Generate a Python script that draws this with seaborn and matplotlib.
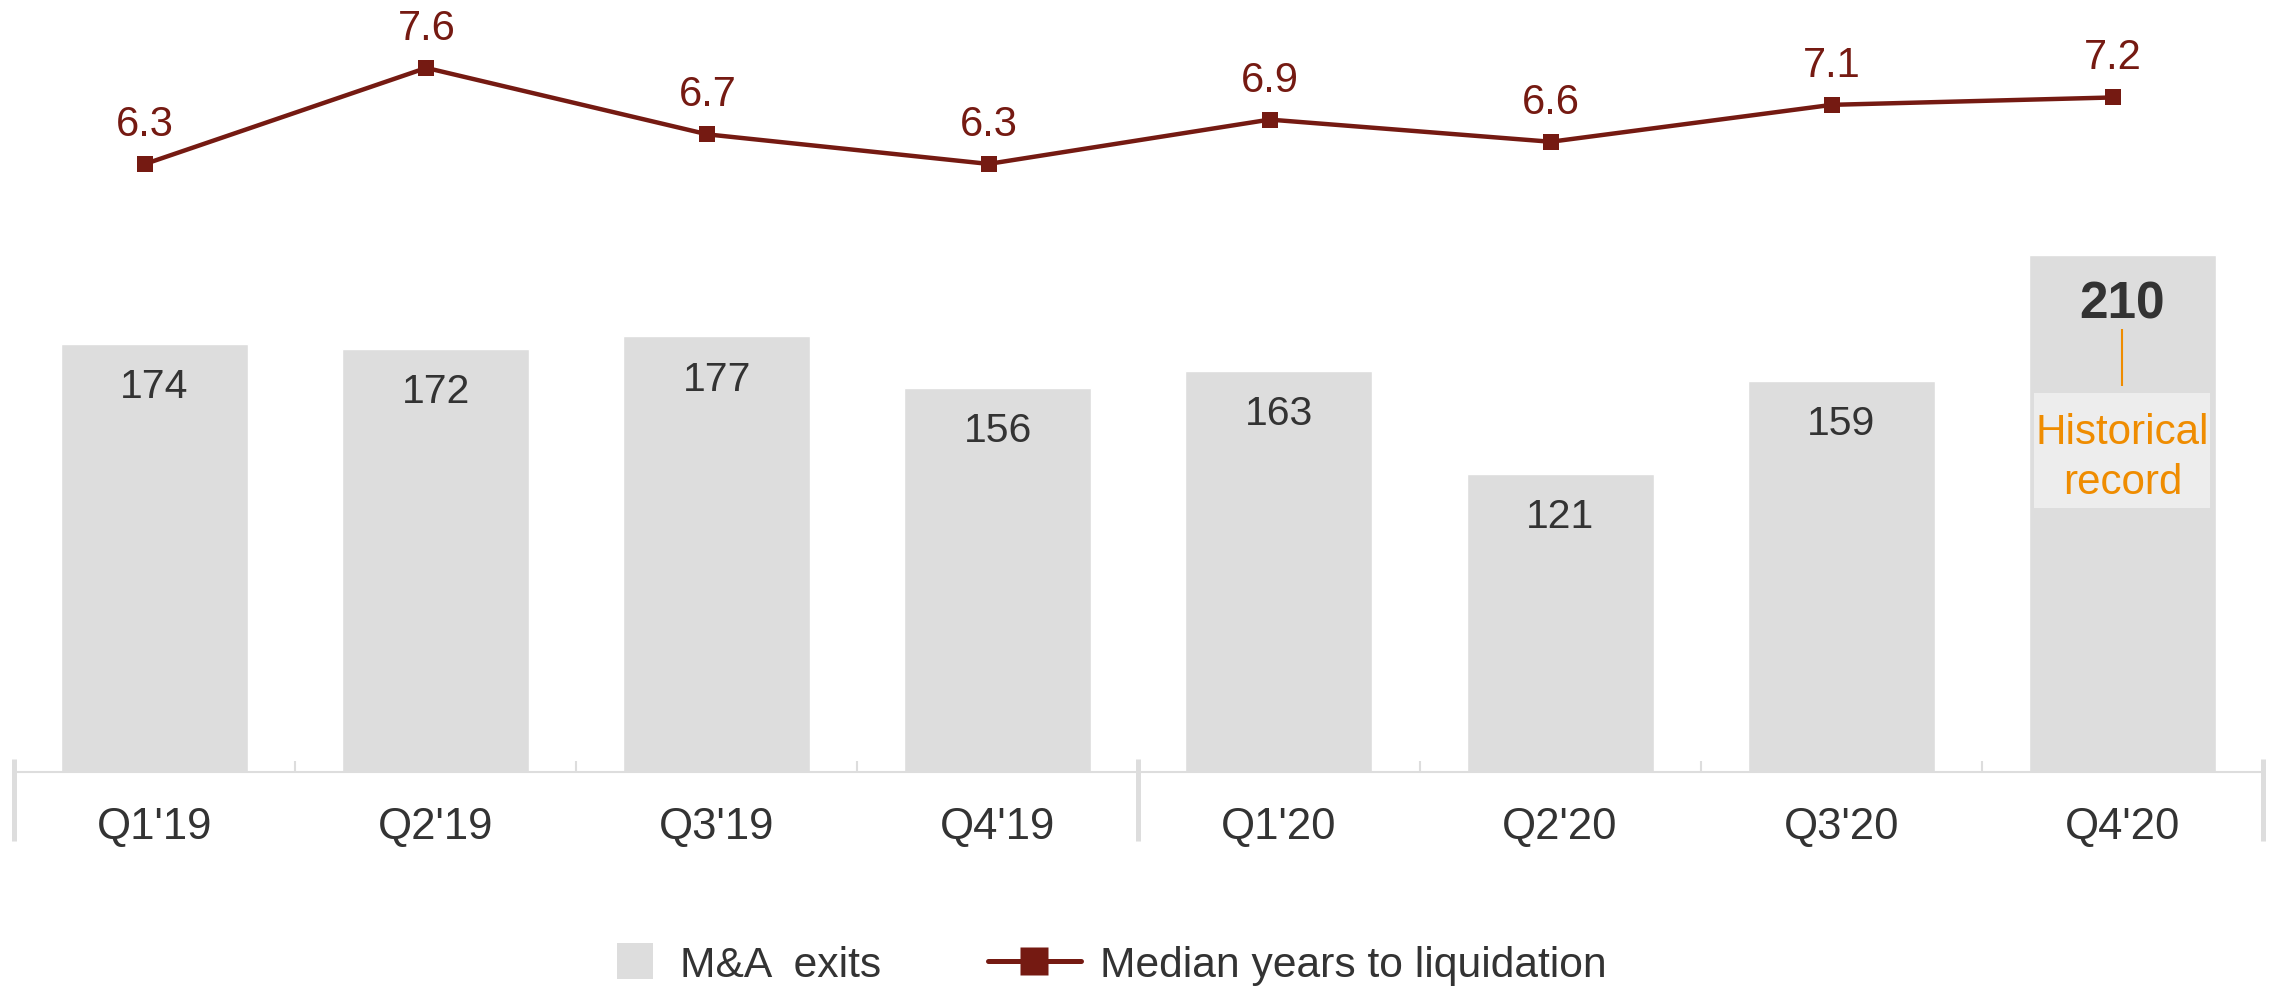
import numpy as np
import pandas as pd
import matplotlib.pyplot as plt
import seaborn as sns
from matplotlib.lines import Line2D
from matplotlib.patches import Patch, Rectangle
from matplotlib.legend_handler import HandlerPatch

# chart data
quarters = ["Q1'19", "Q2'19", "Q3'19", "Q4'19", "Q1'20", "Q2'20", "Q3'20", "Q4'20"]
ma_exits = [174, 172, 177, 156, 163, 121, 159, 210]
median_years = [6.3, 7.6, 6.7, 6.3, 6.9, 6.6, 7.1, 7.2]
record_label = "Historical\nrecord"

BAR_COLOR = '#dddddd'
BOX_COLOR = '#ededed'
LINE_COLOR = '#751a12'
TEXT_COLOR = '#333333'
ORANGE = '#ef8c00'

sns.set_theme(style='white')
plt.rcParams['font.family'] = ['Liberation Sans', 'DejaVu Sans']

df = pd.DataFrame({'quarter': quarters, 'exits': ma_exits, 'years': median_years})

fig = plt.figure(figsize=(22.8, 9.87), dpi=100)
ax = fig.add_axes([0.0061, 0.2168, 0.9864, 0.7832])
ax.patch.set_alpha(0)

# bars
sns.barplot(data=df, x='quarter', y='exits', color=BAR_COLOR, width=0.665,
            saturation=1, ax=ax)
ax.set_xlim(-0.5, len(quarters) - 0.5)
ax.set_ylim(0, 314)
ax.set_xlabel('')
ax.set_ylabel('')
ax.set_yticks([])

rec = int(np.argmax(ma_exits))
for i, v in enumerate(ma_exits):
    bold = i == rec
    ax.annotate(str(v), (i, v), xytext=(0, -35 if bold else -30.5),
                textcoords='offset points', ha='center', va='center',
                fontsize=37 if bold else 29.5,
                fontweight='bold' if bold else 'normal', color=TEXT_COLOR)

# record callout: connector, light box and label
rec_v = ma_exits[rec]
ax.vlines(rec, rec_v - 53, rec_v - 30, colors=ORANGE, lw=1.5)
ax.add_patch(Rectangle((rec - 0.313, rec_v - 102.8), 0.626, 46.8,
                       facecolor=BOX_COLOR, edgecolor='none'))
ax.text(rec, rec_v - 82, record_label, ha='center', va='center',
        fontsize=30.3, color=ORANGE, linespacing=1.34)

# axis styling
for side in ['top', 'right', 'left']:
    ax.spines[side].set_visible(False)
ax.spines['bottom'].set_color(BAR_COLOR)
ax.spines['bottom'].set_linewidth(1.5)
ax.tick_params(axis='x', which='major', length=0, pad=24.5,
               labelsize=31.5, labelcolor=TEXT_COLOR)
ax.set_xticks(np.arange(0.5, len(quarters) - 1, 1), minor=True)
ax.tick_params(axis='x', which='minor', direction='in', length=8, width=1.5,
               color=BAR_COLOR, bottom=True)
# year separators
ax.vlines([-0.5, 3.5, len(quarters) - 0.5], -0.0893, 0.0168,
          transform=ax.get_xaxis_transform(), colors=BAR_COLOR, lw=3.6,
          clip_on=False)

# line on twin axis
ax2 = ax.twinx()
xpos = np.arange(len(quarters)) - 0.033
sns.lineplot(x=xpos, y=median_years, ax=ax2, color=LINE_COLOR, lw=3.2,
             marker='s', markersize=11.5, markeredgewidth=0)
ax2.set_ylim(-1.934, 8.533)
ax2.set_xlim(-0.5, len(quarters) - 0.5)
ax2.set_yticks([])
for side in ax2.spines:
    ax2.spines[side].set_visible(False)
for x, v in zip(xpos, median_years):
    ax2.annotate(f'{v:.1f}', (x, v), xytext=(0, 28.8), textcoords='offset points',
                 ha='center', va='center', fontsize=30, color=LINE_COLOR)


# square legend key pushed to the right end of the handle box
def square_key(legend, orig_handle, xdescent, ydescent, width, height, fontsize):
    s, gap = 26, 5.8
    return Rectangle((-xdescent + width - s - gap, -ydescent + height / 2 - s / 2), s, s)


handles = [
    Patch(facecolor=BAR_COLOR, edgecolor='none'),
    Line2D([], [], color=LINE_COLOR, lw=3.6, marker='s', ms=20, mec='none'),
]
fig.legend(handles, ['M&A  exits', 'Median years to liquidation'], loc='center',
           bbox_to_anchor=(0.4768, 0.021), ncol=2, frameon=False, fontsize=30.7,
           handlelength=2.18, handletextpad=0.446, columnspacing=2.5,
           labelcolor=TEXT_COLOR,
           handler_map={Patch: HandlerPatch(patch_func=square_key)})

fig.savefig('out.png', dpi=100)
